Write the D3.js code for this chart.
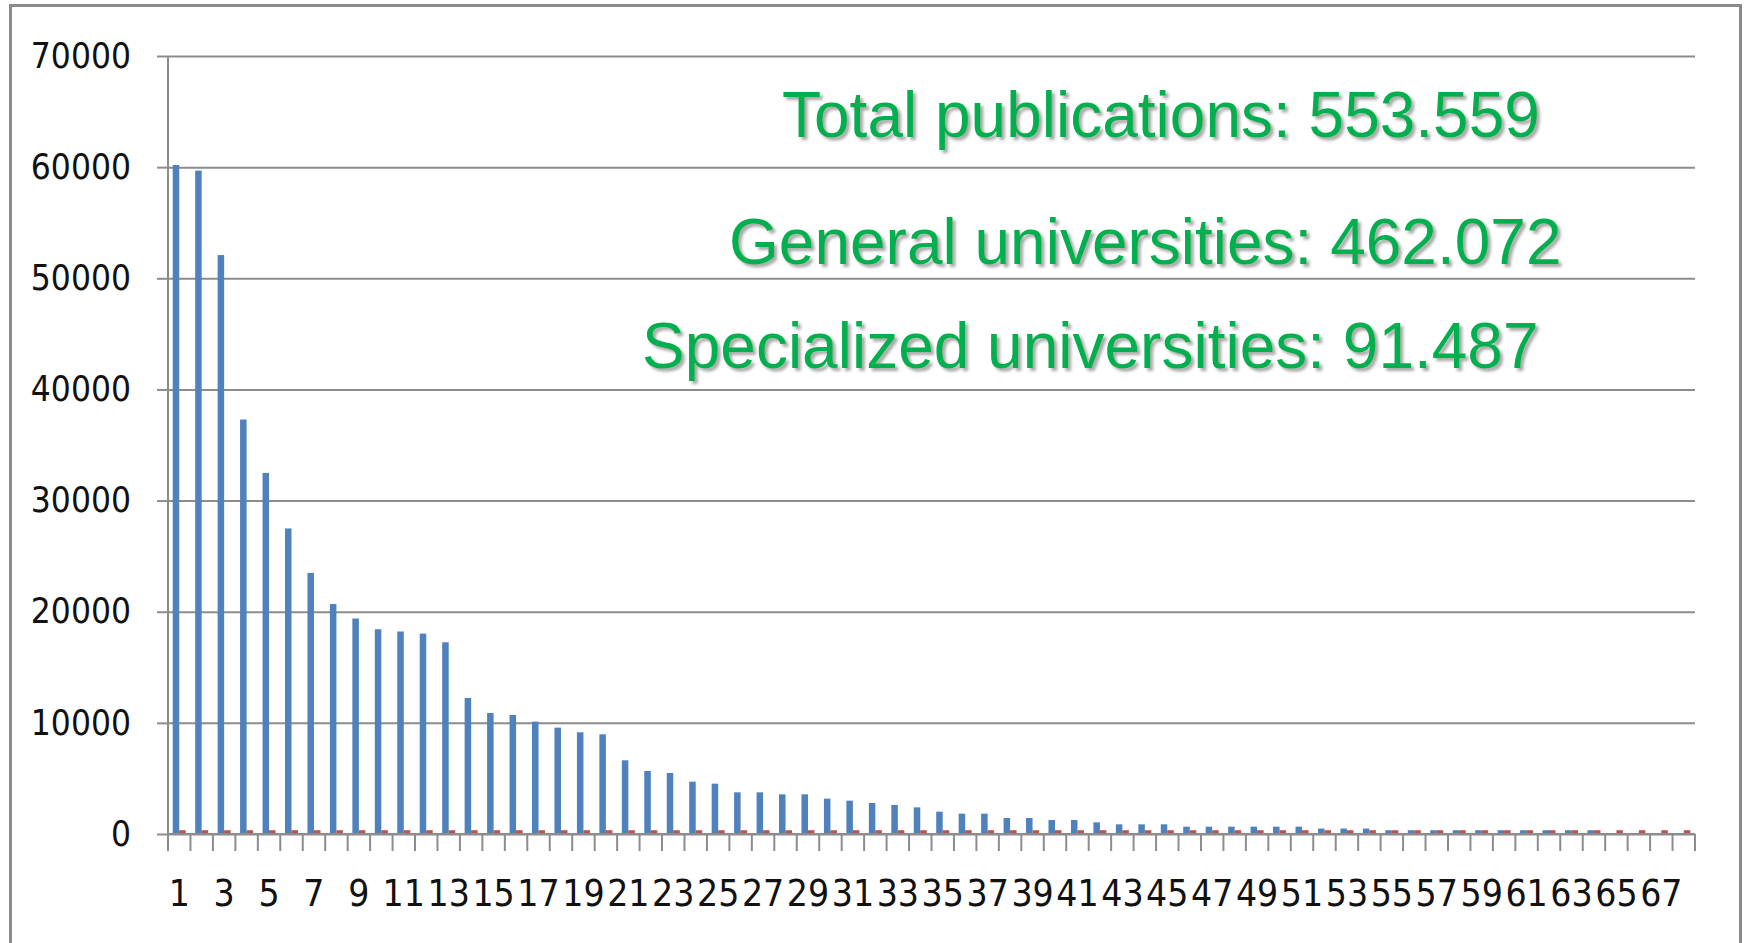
<!DOCTYPE html>
<html>
<head>
<meta charset="utf-8">
<script src="https://cdn.jsdelivr.net/npm/d3@7"></script>
<style>
  html, body { margin: 0; padding: 0; background: #fff; }
  .tick text { font-family: 'DejaVu Sans Condensed', 'DejaVu Sans', sans-serif; font-stretch: condensed; fill: #111; }
</style>
</head>
<body>
<div id="chart"></div>
<script>
// ===== Data =====
// 68 institutions, ranked by number of publications
var categories = d3.range(1, 69);

var generalPubs = [
  60100, 59600, 52000, 37200, 32400, 27400, 23400, 20600, 19300, 18330,
  18130, 17940, 17160, 12150, 10800, 10620, 10020, 9480, 9060, 8880,
  6540, 5580, 5400, 4620, 4440, 3660, 3660, 3480, 3480, 3090,
  2910, 2700, 2520, 2310, 1920, 1740, 1740, 1350, 1350, 1170,
  1170, 960, 780, 780, 780, 570, 570, 570, 570, 570,
  570, 400, 400, 400, 250, 250, 250, 250, 250, 250,
  250, 250, 250, 250, 0, 0, 0, 0
];

var specialPubs = [
  250, 250, 250, 250, 250, 250, 250, 250, 250, 250,
  250, 250, 250, 250, 250, 250, 250, 250, 250, 250,
  250, 250, 250, 250, 250, 250, 250, 250, 250, 250,
  250, 250, 250, 250, 250, 250, 250, 250, 250, 250,
  250, 250, 250, 250, 250, 250, 250, 250, 250, 250,
  250, 250, 250, 250, 250, 250, 250, 250, 250, 250,
  250, 250, 250, 250, 250, 250, 250, 250
];

var seriesNames = ["general", "special"];
var seriesColors = ["#4F81BD", "#C0504D"];

var yTicks = [0, 10000, 20000, 30000, 40000, 50000, 60000, 70000];

var notes = [
  "Total publications: 553.559",
  "General universities: 462.072",
  "Specialized universities: 91.487"
];

// ===== Layout =====
var W = 1745, H = 943;
var margin = {top: 56, left: 168, right: 50, bottom: 109};
var width = W - margin.left - margin.right,
    height = H - margin.top - margin.bottom;

var svg = d3.select("#chart").append("svg")
    .attr("width", W)
    .attr("height", H);

// drop shadow for the green notes
var defs = svg.append("defs");
defs.append("filter")
    .attr("id", "shadow")
    .attr("x", "-5%").attr("y", "-20%")
    .attr("width", "110%").attr("height", "150%")
  .append("feDropShadow")
    .attr("dx", 3).attr("dy", 3)
    .attr("stdDeviation", 1.6)
    .attr("flood-color", "#6e6e6e")
    .attr("flood-opacity", 0.6);

// outer frame of the picture
svg.append("rect")
    .attr("x", 10.5).attr("y", 5.5)
    .attr("width", 1730).attr("height", 960)
    .attr("fill", "#fff")
    .attr("stroke", "#8a8a8a")
    .attr("stroke-width", 3);

var g = svg.append("g")
    .attr("transform", "translate(" + margin.left + "," + margin.top + ")");

// ===== Scales =====
var x = d3.scaleBand()
    .domain(categories)
    .range([0, width])
    .padding(0);

var xs = d3.scaleBand()
    .domain(seriesNames)
    .range([x.bandwidth() * 0.21, x.bandwidth() * 0.79]);

var y = d3.scaleLinear()
    .domain([0, 70000])
    .range([height, 0]);

// ===== Grid lines =====
g.append("g")
    .attr("class", "grid")
    .call(d3.axisLeft(y).tickValues(yTicks).tickSize(-width).tickFormat(""))
    .call(function(s) { s.select(".domain").remove(); })
    .selectAll("line")
    .attr("stroke", "#8c8c8c")
    .attr("stroke-width", 2);

// ===== Y axis =====
var yAxis = g.append("g")
    .call(d3.axisLeft(y).tickValues(yTicks).tickSize(11).tickPadding(26).tickFormat(d3.format("d")));
yAxis.select(".domain").attr("stroke", "#8c8c8c").attr("stroke-width", 2)
    .attr("d", "M0," + height + "V0");
yAxis.selectAll("line").attr("stroke", "#8c8c8c").attr("stroke-width", 2);
yAxis.selectAll("text").attr("font-size", 35);

// ===== X axis line and ticks (drawn before bars so bars sit on top) =====
// tick marks sit on the category boundaries
var xTicks = g.append("g")
    .attr("transform", "translate(0," + height + ")");
xTicks.selectAll("line")
    .data(categories.concat([null]))
    .enter().append("line")
    .attr("x1", function(d) { return d === null ? width : x(d); })
    .attr("x2", function(d) { return d === null ? width : x(d); })
    .attr("y1", 0).attr("y2", 17)
    .attr("stroke", "#8c8c8c")
    .attr("stroke-width", 2);
xTicks.append("line")
    .attr("x1", 0).attr("x2", width)
    .attr("y1", 0).attr("y2", 0)
    .attr("stroke", "#8c8c8c")
    .attr("stroke-width", 2);

// ===== Bars =====
var rows = categories.map(function(c, i) {
  return {cat: c, values: [generalPubs[i], specialPubs[i]]};
});

var groups = g.selectAll(".cat")
    .data(rows)
    .enter().append("g")
    .attr("class", "cat")
    .attr("transform", function(d) { return "translate(" + x(d.cat) + ",0)"; });

groups.selectAll("rect")
    .data(function(d) {
      return d.values.map(function(v, k) { return {key: seriesNames[k], value: v, color: seriesColors[k]}; });
    })
    .enter().append("rect")
    .attr("x", function(d) { return xs(d.key); })
    .attr("width", xs.bandwidth())
    .attr("y", function(d) { return y(d.value) - 1; })
    .attr("height", function(d) { return d.value > 0 ? height - y(d.value) : 0; })
    .attr("fill", function(d) { return d.color; });

// ===== X labels =====
var xAxis = g.append("g")
    .attr("transform", "translate(0," + height + ")")
    .call(d3.axisBottom(x)
        .tickValues(categories.filter(function(c) { return c % 2 === 1; }))
        .tickSize(0)
        .tickPadding(46));
xAxis.select(".domain").remove();
xAxis.selectAll("text").attr("font-size", 37);

// ===== Green notes =====
var notePos = [[782, 137], [729, 264], [642, 368]];
svg.selectAll(".note")
    .data(notes)
    .enter().append("text")
    .attr("class", "note")
    .attr("x", function(d, i) { return notePos[i][0]; })
    .attr("y", function(d, i) { return notePos[i][1]; })
    .attr("font-family", "'Liberation Sans', Arial, sans-serif")
    .attr("font-size", 64)
    .attr("fill", "#00B050")
    .attr("filter", "url(#shadow)")
    .text(function(d) { return d; });
</script>
</body>
</html>
